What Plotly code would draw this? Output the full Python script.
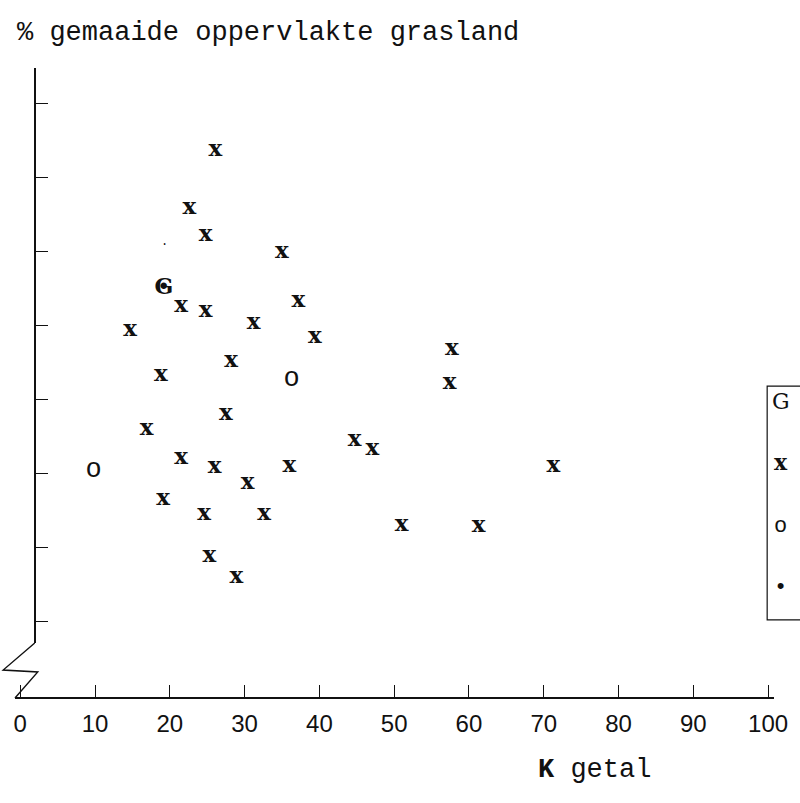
import plotly.graph_objects as go

# K getal (x) and % gemaaide oppervlakte grasland (y)
x_kruis = [26.1, 22.6, 24.8, 35.0, 21.5, 24.8, 37.2, 14.7, 31.2, 39.4,
           57.7, 18.8, 28.2, 57.4, 27.5, 16.9, 44.7, 47.1, 21.5, 26.0,
           36.0, 71.3, 30.4, 19.1, 24.6, 32.6, 51.0, 61.3, 25.3, 28.9]
y_kruis = [73.8, 65.9, 62.2, 60.0, 52.7, 52.0, 53.3, 49.4, 50.4, 48.5,
           46.9, 43.3, 45.2, 42.3, 38.1, 36.0, 34.6, 33.3, 32.1, 30.9,
           31.1, 31.0, 28.7, 26.6, 24.6, 24.6, 23.1, 23.0, 18.9, 16.0]
x_rondje = [9.8, 36.3]
y_rondje = [30.5, 42.8]
x_g = [19.2]
y_g = [55.1]
x_punt = [19.2]
y_punt = [55.1]
x_vlek = [19.3]
y_vlek = [61.3]

x_ticks = [0, 10, 20, 30, 40, 50, 60, 70, 80, 90, 100]
x_ticktext = ["0", "10", "20", "30", "40", "50", "60", "70", "80", "90", "100"]
y_ticks = [10, 20, 30, 40, 50, 60, 70, 80]
legend_items = ["G", "x", "o", "•"]

TYPE = "Liberation Mono"
SERIF = "DejaVu Serif"
INK = "#111111"

fig = go.Figure()


def typed(xs, ys, ch, family=TYPE, size=28, name=""):
    fig.add_trace(go.Scatter(
        x=xs, y=ys, mode="text", text=[ch] * len(xs),
        textposition="middle center", cliponaxis=False, name=name,
        textfont=dict(family=family, size=size, color=INK),
        showlegend=False, hoverinfo="x+y"))


typed(x_kruis, y_kruis, "<b>x</b>", family=SERIF, size=23, name="x")
typed(x_rondje, y_rondje, "o", size=27, name="o")
typed(x_g, y_g, "<b>G</b>", family=SERIF, size=22, name="G")
typed(x_punt, y_punt, "•", size=24, name="•")
typed(x_vlek, y_vlek, ".", size=12, name="")

# zigzag axis break
fig.add_shape(type="path", xref="paper", yref="paper",
              path="M 0.026 0.0873 L -0.0156 0.0444 L 0.030 0.0413 L 0 0",
              line=dict(color=INK, width=1.4))

# legend box (cut off at the right edge)
fig.add_shape(type="rect", xref="paper", yref="paper",
              x0=0.991, x1=1.2, y0=0.124, y1=0.495,
              line=dict(color=INK, width=1.2))
legend_y = [0.471, 0.375, 0.273, 0.175]
legend_font = [SERIF, SERIF, TYPE, TYPE]
legend_txt = ["G", "<b>x</b>", "o", "•"]
for txt, fam, yy in zip(legend_txt, legend_font, legend_y):
    fig.add_annotation(text=txt, xref="paper", yref="paper", x=1.009, y=yy,
                       xanchor="center", yanchor="middle", showarrow=False,
                       font=dict(family=fam, size=22, color=INK))

fig.add_annotation(text="% gemaaide oppervlakte grasland", xref="paper", yref="paper",
                   x=0.0, y=1.055, xanchor="left", yanchor="middle", showarrow=False,
                   font=dict(family=TYPE, size=27, color=INK))
fig.add_annotation(text="<b>K</b> getal", xref="paper", yref="paper",
                   x=0.764, y=-0.114, xanchor="center", yanchor="middle", showarrow=False,
                   font=dict(family=TYPE, size=27, color=INK))

fig.update_layout(
    width=800, height=803,
    margin=dict(l=15, r=17, t=68, b=105),
    paper_bgcolor="white", plot_bgcolor="white",
    showlegend=False,
    xaxis=dict(range=[-0.70, 100.79], anchor="free", position=0,
               tickvals=x_ticks, ticktext=x_ticktext,
               ticks="inside", ticklen=12, tickwidth=1.4, tickcolor=INK,
               showline=True, linecolor=INK, linewidth=1.6,
               showgrid=False, zeroline=False, ticklabelstandoff=4,
               ticklabeloverflow="allow",
               tickfont=dict(family="Liberation Sans", size=24, color=INK)),
    yaxis=dict(range=[7.16, 84.86], domain=[0.0873, 1], anchor="free", position=0.026,
               tickvals=y_ticks, showticklabels=False,
               ticks="inside", ticklen=12, tickwidth=1.4, tickcolor=INK,
               showline=True, linecolor=INK, linewidth=1.6,
               showgrid=False, zeroline=False),
)

fig.write_html(
    "out.html",
    config={"displayModeBar": False},
    post_script="document.body.style.margin='0';document.body.style.overflow='hidden';",
)
